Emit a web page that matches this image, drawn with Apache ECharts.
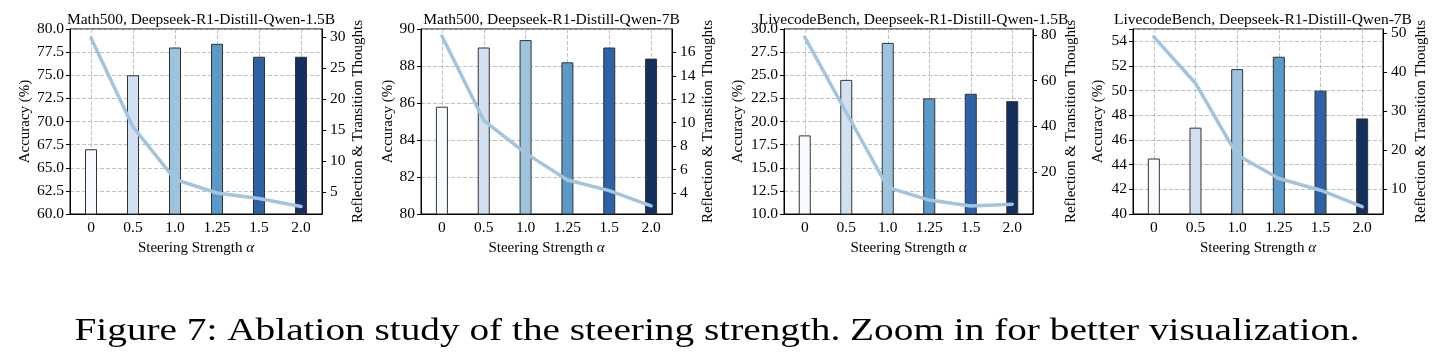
<!DOCTYPE html>
<html>
<head>
<meta charset="utf-8">
<script src="https://cdn.jsdelivr.net/npm/echarts@6/dist/echarts.min.js"></script>
<style>
html,body{margin:0;padding:0;background:#fff;}
#c{width:1440px;height:358px;}
</style>
</head>
<body>
<div id="c"></div>
<script>
const categories = ['0', '0.5', '1.0', '1.25', '1.5', '2.0'];
const panelTitles = [
  'Math500, Deepseek-R1-Distill-Qwen-1.5B',
  'Math500, Deepseek-R1-Distill-Qwen-7B',
  'LivecodeBench, Deepseek-R1-Distill-Qwen-1.5B',
  'LivecodeBench, Deepseek-R1-Distill-Qwen-7B'
];
const accMath15 = [67.0, 75.0, 78.0, 78.4, 77.0, 77.0];
const thoughtsMath15 = [29.9, 15.5, 7.0, 4.8, 3.9, 2.6];
const accMath7 = [85.8, 89.0, 89.4, 88.2, 89.0, 88.4];
const thoughtsMath7 = [17.4, 10.2, 7.4, 5.1, 4.2, 2.9];
const accLcb15 = [18.5, 24.5, 28.5, 22.5, 23.0, 22.2];
const thoughtsLcb15 = [79, 46, 13.2, 7.6, 5.0, 5.8];
const accLcb7 = [44.5, 47.0, 51.75, 52.75, 50.0, 47.75];
const thoughtsLcb7 = [49.1, 37.2, 18.8, 12.8, 9.8, 5.6];
const barColors = ['#f7fbff', '#d2e1f1', '#9dc3de', '#5a99c8', '#2d63a6', '#14305f'];
const captionText = 'Figure 7: Ablation study of the steering strength. Zoom in for better visualization.';

const accData = [accMath15, accMath7, accLcb15, accLcb7];
const thoughtData = [thoughtsMath15, thoughtsMath7, thoughtsLcb15, thoughtsLcb7];

// layout
const grids = [
  {left: 70, width: 252, leftGap: 30, rightGap: 29},
  {left: 421, width: 251, leftGap: 25, rightGap: 29},
  {left: 784, width: 249, leftGap: 38, rightGap: 31},
  {left: 1133, width: 250, leftGap: 27, rightGap: 31}
];
const leftAxes = [
  {min: 60, max: 80, interval: 2.5, dec: 1},
  {min: 80, max: 90, interval: 2, dec: 0},
  {min: 10, max: 30, interval: 2.5, dec: 1},
  {min: 40, max: 55, interval: 2, dec: 0}
];
const rightAxes = [
  {min: 1.4, max: 31.35, step: 5},
  {min: 2.2, max: 18.0, step: 2},
  {min: 1.5, max: 82.6, step: 20},
  {min: 3.7, max: 51.1, step: 10}
];

const FONT = 'Liberation Serif';
const gridColor = '#b0b0b0';

// caption: fit its footprint to the reference width
const capFontSize = 32;
const capTargetWidth = 1285;
const mctx = document.createElement('canvas').getContext('2d');
mctx.font = capFontSize + 'px "Liberation Serif"';
const capScale = capTargetWidth / mctx.measureText(captionText).width;

const option = {
  backgroundColor: '#fff',
  animation: false,
  title: [], grid: [], xAxis: [], yAxis: [], series: [],
  graphic: [{
    type: 'text', x: 717, y: 316, scaleX: capScale,
    style: {text: captionText, font: capFontSize + 'px "Liberation Serif"', fill: '#000',
      textAlign: 'center', textVerticalAlign: 'top'}
  }]
};

grids.forEach((g, i) => {
  option.grid.push({
    left: g.left, top: 29, width: g.width, height: 185,
    show: true, borderColor: '#000', borderWidth: 1, backgroundColor: 'transparent'
  });
  option.title.push({
    text: panelTitles[i], left: g.left + g.width / 2, top: 7, textAlign: 'center',
    textStyle: {fontFamily: FONT, fontSize: 15.5, fontWeight: 'normal', color: '#000'}
  });
  option.xAxis.push({
    type: 'category', gridIndex: i, data: categories, boundaryGap: true,
    name: 'Steering Strength {a|α}', nameLocation: 'middle', nameGap: 19,
    nameTextStyle: {fontFamily: FONT, fontSize: 15, color: '#000',
      rich: {a: {fontFamily: FONT, fontSize: 15, fontStyle: 'italic', color: '#000'}}},
    axisLine: {lineStyle: {color: '#000', width: 1}},
    axisTick: {alignWithLabel: true, length: 4, lineStyle: {color: '#000'}},
    axisLabel: {fontFamily: FONT, fontSize: 15.5, color: '#000', margin: 6},
    splitLine: {show: true, alignWithLabel: true, lineStyle: {color: gridColor, type: [4, 2], width: 0.8}}
  });
  const la = leftAxes[i];
  option.yAxis.push({
    type: 'value', gridIndex: i, position: 'left', min: la.min, max: la.max, interval: la.interval,
    name: 'Accuracy (%)', nameLocation: 'middle', nameGap: g.leftGap,
    nameTextStyle: {fontFamily: FONT, fontSize: 15, color: '#000'},
    axisLine: {show: true, lineStyle: {color: '#000', width: 1}},
    axisTick: {show: true, length: 4, lineStyle: {color: '#000'}},
    axisLabel: {fontFamily: FONT, fontSize: 15.5, color: '#000', margin: 6,
      formatter: v => (Math.abs(v / la.interval - Math.round(v / la.interval)) > 1e-6 ? '' : v.toFixed(la.dec))},
    splitLine: {show: true, lineStyle: {color: gridColor, type: [4, 2], width: 0.8}}
  });
  const ra = rightAxes[i];
  option.yAxis.push({
    type: 'value', gridIndex: i, position: 'right', min: ra.min, max: ra.max,
    splitNumber: Math.round((ra.max - ra.min) / ra.step), minInterval: ra.step, maxInterval: ra.step,
    name: 'Reflection & Transition Thoughts', nameLocation: 'middle', nameGap: g.rightGap,
    nameRotate: 90,
    nameTextStyle: {fontFamily: FONT, fontSize: 15, color: '#000'},
    axisLine: {show: true, lineStyle: {color: '#000', width: 1}},
    axisTick: {show: true, length: 4, lineStyle: {color: '#000'}},
    axisLabel: {fontFamily: FONT, fontSize: 15.5, color: '#000', margin: 8, showMinLabel: false, showMaxLabel: false,
      formatter: v => (Math.abs(v / ra.step - Math.round(v / ra.step)) > 1e-6 ? '' : String(Math.round(v)))},
    splitLine: {show: false}
  });
  option.series.push({
    type: 'bar', xAxisIndex: i, yAxisIndex: 2 * i, barWidth: 12, z: 2,
    data: accData[i].map((v, k) => ({value: v, itemStyle: {color: barColors[k]}})),
    itemStyle: {borderColor: '#333', borderWidth: 1}
  });
  option.series.push({
    type: 'line', xAxisIndex: i, yAxisIndex: 2 * i + 1, z: 3,
    data: thoughtData[i], symbol: 'none', smooth: false,
    lineStyle: {color: '#a3c4dd', width: 3.5, cap: 'round', join: 'round'}
  });
});

const chart = echarts.init(document.getElementById('c'), null, {renderer: 'canvas'});
chart.setOption(option);
</script>
</body>
</html>
